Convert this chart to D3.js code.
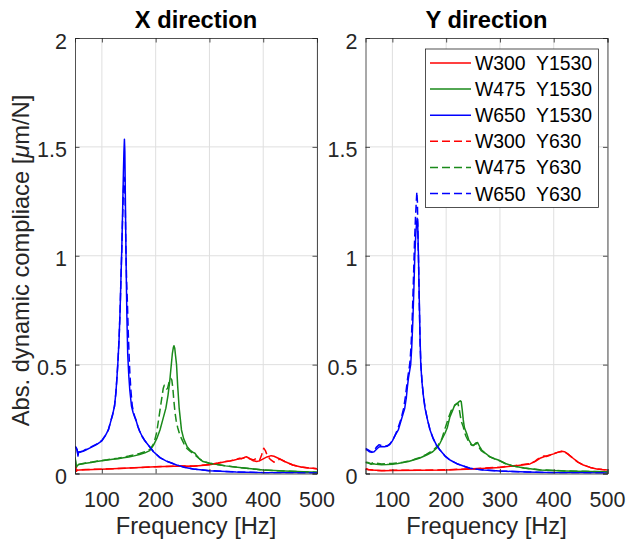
<!DOCTYPE html>
<html>
<head>
<meta charset="utf-8">
<script src="https://cdn.jsdelivr.net/npm/d3@7"></script>
<style>
  html, body { margin: 0; padding: 0; background: #fff; }
  svg { display: block; font-family: "Liberation Sans", Arial, Helvetica, sans-serif; }
</style>
</head>
<body>
<svg id="chart" width="627" height="544"></svg>
<script>
// ---- Data: [frequency Hz, |compliance| um/N] ----
// X direction
const xW300Y1530 = [[50,0.045],[51,0.03],[52.5,0.01],[54,0.015],[58,0.016],[70,0.017],[100,0.019],[150,0.025],[200,0.031],[250,0.034],[270,0.033],[300,0.04],[316,0.047],[329,0.054],[338,0.057],[345,0.061],[350,0.064],[356,0.07],[360,0.068],[364,0.073],[368.5,0.077],[374,0.07],[381,0.059],[388,0.055],[393,0.058],[400,0.067],[407,0.076],[414.8,0.082],[420,0.079],[430,0.068],[440,0.055],[455,0.039],[470,0.03],[485,0.025],[492,0.024],[500,0.022]];
const xW475Y1530 = [[50,0.075],[51,0.06],[52.5,0.028],[54,0.035],[56,0.04],[60,0.043],[70,0.047],[80,0.051],[90,0.055],[100,0.059],[110,0.062],[120,0.065],[130,0.068],[140,0.072],[150,0.076],[160,0.081],[170,0.087],[180,0.095],[189,0.105],[196,0.13],[202,0.16],[208,0.2],[213,0.245],[219,0.3],[223,0.36],[226,0.42],[228.3,0.48],[231,0.55],[233,0.58],[234,0.587],[235.5,0.575],[237,0.54],[238.8,0.5],[241,0.4],[243.7,0.3],[248,0.2],[252,0.16],[258.6,0.123],[265,0.105],[269,0.098],[273,0.093],[277,0.08],[282,0.066],[288,0.055],[300,0.047],[330,0.035],[360,0.026],[400,0.016],[450,0.01],[500,0.006]];
const xW650Y1530 = [[50,0.125],[52,0.12],[54,0.11],[55.5,0.08],[57,0.1],[60,0.098],[65,0.102],[70,0.108],[80,0.12],[90,0.133],[100,0.15],[106,0.172],[112,0.2],[116,0.235],[120,0.27],[123.5,0.31],[126,0.37],[128,0.44],[130,0.52],[132,0.62],[134,0.76],[135.5,0.9],[137,1.03],[138.5,1.2],[140,1.38],[141,1.48],[141.9,1.535],[142.7,1.48],[143.5,1.3],[144.5,1.08],[145.5,0.88],[146.5,0.72],[148,0.55],[150,0.45],[152,0.38],[155,0.31],[158,0.28],[161,0.26],[164,0.24],[167,0.215],[170,0.195],[175,0.17],[180,0.15],[188,0.125],[196,0.1],[208,0.073],[220,0.057],[239,0.039],[255,0.028],[270,0.021],[300,0.013],[350,0.007],[400,0.004],[450,0.003],[500,0.002]];
const xW300Y630 = [[50,0.04],[51,0.028],[52.5,0.012],[54,0.016],[58,0.017],[70,0.018],[100,0.02],[150,0.025],[200,0.031],[250,0.034],[270,0.034],[300,0.041],[316,0.048],[329,0.055],[338,0.058],[345,0.062],[350,0.065],[356,0.068],[362,0.07],[368,0.075],[375,0.068],[382,0.062],[388,0.07],[393,0.06],[397,0.085],[401,0.116],[404,0.105],[408,0.08],[413,0.065],[420,0.052],[425,0.058],[431,0.066],[440,0.055],[455,0.039],[470,0.03],[485,0.025],[500,0.022]];
const xW475Y630 = [[50,0.07],[51,0.055],[52.5,0.03],[54,0.036],[56,0.041],[60,0.044],[70,0.048],[80,0.052],[90,0.056],[100,0.06],[110,0.063],[120,0.067],[130,0.07],[140,0.075],[150,0.08],[160,0.086],[170,0.092],[180,0.1],[190,0.112],[197,0.14],[202,0.19],[205,0.24],[208,0.29],[211,0.34],[214,0.39],[216,0.405],[218,0.4],[220,0.388],[222,0.39],[225,0.42],[228,0.437],[230,0.43],[232,0.39],[234,0.33],[236,0.28],[238,0.245],[241,0.21],[244,0.185],[248,0.16],[253,0.135],[258,0.115],[265,0.1],[272,0.088],[280,0.07],[288,0.056],[300,0.047],[330,0.035],[360,0.026],[400,0.016],[450,0.01],[500,0.006]];
const xW650Y630 = [[50,0.12],[52,0.118],[54,0.105],[55.5,0.085],[57,0.098],[60,0.1],[65,0.104],[70,0.11],[80,0.122],[90,0.135],[100,0.152],[106,0.174],[112,0.2],[116,0.236],[120,0.272],[123.5,0.31],[126,0.37],[128,0.44],[130,0.52],[132,0.62],[134,0.76],[135.5,0.9],[137,1.03],[138.5,1.17],[140,1.3],[141.5,1.36],[142.5,1.35],[143.5,1.22],[144.5,1.05],[146,0.88],[147.5,0.78],[149,0.65],[150.5,0.55],[152,0.46],[154,0.38],[156.5,0.31],[159,0.28],[161,0.262],[164,0.242],[167,0.216],[170,0.196],[175,0.17],[180,0.15],[188,0.125],[196,0.1],[208,0.073],[220,0.057],[239,0.039],[255,0.028],[270,0.021],[300,0.013],[350,0.007],[400,0.004],[450,0.003],[500,0.002]];

// Y direction
const yW300Y1530 = [[50,0.02],[52,0.022],[55,0.018],[60,0.016],[70,0.015],[80,0.013],[100,0.014],[150,0.015],[200,0.016],[250,0.021],[300,0.028],[330,0.036],[355.8,0.044],[365,0.055],[374.4,0.07],[383,0.078],[393,0.085],[400,0.09],[407,0.097],[414.6,0.102],[420,0.1],[426,0.09],[436,0.07],[445,0.052],[455,0.039],[468,0.028],[480,0.021],[490,0.018],[500,0.016]];
const yW475Y1530 = [[50,0.05],[55,0.048],[60,0.043],[65,0.045],[70,0.042],[80,0.04],[90,0.041],[100,0.043],[110,0.046],[120,0.05],[130,0.055],[139,0.062],[150,0.07],[163.7,0.085],[175,0.1],[185,0.123],[188.5,0.139],[197.8,0.185],[202,0.21],[207,0.26],[212,0.29],[216,0.315],[220,0.32],[224,0.33],[226.3,0.334],[228,0.33],[230,0.29],[231.8,0.246],[234,0.21],[238,0.185],[242,0.155],[247.4,0.131],[251,0.13],[255,0.14],[258.5,0.142],[262,0.125],[266,0.108],[272,0.095],[281.4,0.077],[290,0.068],[297,0.062],[310,0.046],[324.7,0.034],[345,0.025],[374,0.016],[420,0.012],[460,0.009],[500,0.008]];
const yW650Y1530 = [[50,0.11],[53,0.108],[57,0.1],[62,0.097],[66,0.1],[70,0.11],[75,0.122],[80,0.124],[85,0.123],[90,0.125],[95,0.133],[100,0.15],[105,0.175],[111,0.2],[117,0.25],[123,0.3],[126,0.35],[128,0.4],[130,0.44],[132,0.47],[134,0.5],[136,0.58],[138,0.7],[140,0.85],[141.7,1.0],[143.5,1.1],[145,1.15],[146,1.172],[147,1.15],[148.5,1.0],[150,0.8],[151.5,0.62],[152.8,0.5],[155,0.42],[157.5,0.36],[160.6,0.3],[165,0.25],[170,0.2],[176,0.16],[182,0.13],[188.5,0.108],[198,0.08],[207,0.062],[220,0.045],[244,0.024],[270,0.016],[300,0.011],[350,0.007],[400,0.004],[450,0.003],[500,0.002]];
const yW300Y630 = [[50,0.021],[52,0.02],[55,0.017],[60,0.017],[70,0.014],[80,0.014],[100,0.015],[150,0.015],[200,0.017],[250,0.022],[300,0.029],[330,0.037],[355.8,0.045],[365,0.056],[370,0.066],[378,0.078],[382,0.08],[386,0.078],[393,0.084],[400,0.091],[407,0.097],[414.6,0.101],[420,0.099],[426,0.09],[436,0.07],[445,0.052],[455,0.039],[468,0.028],[480,0.021],[490,0.018],[500,0.016]];
const yW475Y630 = [[50,0.052],[55,0.05],[60,0.045],[65,0.05],[70,0.048],[80,0.044],[90,0.045],[100,0.046],[110,0.048],[120,0.052],[130,0.057],[140,0.064],[150,0.072],[163,0.088],[175,0.105],[185,0.13],[192,0.16],[197,0.2],[201,0.23],[205,0.26],[209.6,0.29],[214,0.305],[217,0.315],[220,0.322],[222,0.32],[224,0.3],[226,0.27],[228,0.24],[231.8,0.215],[234,0.19],[237,0.17],[241,0.15],[246,0.133],[250,0.128],[254,0.135],[257,0.137],[261,0.12],[265,0.105],[272,0.093],[282,0.075],[290,0.067],[300,0.058],[310,0.046],[325,0.034],[345,0.025],[374,0.017],[420,0.012],[460,0.01],[500,0.008]];
const yW650Y630 = [[50,0.115],[55,0.108],[60,0.1],[65,0.102],[70,0.12],[75,0.132],[80,0.128],[85,0.125],[90,0.127],[95,0.135],[100,0.15],[105,0.175],[110,0.205],[116,0.25],[121,0.3],[124,0.35],[126.5,0.4],[128.5,0.44],[131,0.48],[133,0.52],[135,0.6],[137,0.72],[139,0.88],[141,1.05],[143,1.18],[144.5,1.25],[145.5,1.294],[146.5,1.25],[147.5,1.1],[148.8,0.95],[150,0.78],[151.5,0.6],[153,0.5],[155.5,0.41],[158,0.35],[161,0.3],[165,0.25],[170,0.2],[176,0.16],[182,0.13],[188.5,0.108],[198,0.08],[207,0.062],[220,0.045],[244,0.024],[270,0.016],[300,0.011],[350,0.007],[400,0.004],[450,0.003],[500,0.002]];

const panelTitles = ["X direction", "Y direction"];
const legendLabels = ["W300  Y1530", "W475  Y1530", "W650  Y1530", "W300  Y630", "W475  Y630", "W650  Y630"];
const xTicks = [100, 200, 300, 400, 500];
const yTicks = [0, 0.5, 1, 1.5, 2];
const xDomain = [50, 500];
const yDomain = [0, 2];

const seriesColors = ["#ff0000", "#1a8a1a", "#0000ff", "#ff0000", "#1a8a1a", "#0000ff"];
const seriesDashed = [false, false, false, true, true, true];
const panelSeries = [
  [xW300Y1530, xW475Y1530, xW650Y1530, xW300Y630, xW475Y630, xW650Y630],
  [yW300Y1530, yW475Y1530, yW650Y1530, yW300Y630, yW475Y630, yW650Y630]
];

// ---- Layout ----
const svg = d3.select("#chart");
const plotTop = 38, plotBottom = 473.5;
const panels = [{ left: 75, right: 317 }, { left: 365.5, right: 607.5 }];
const axisColor = "#262626";
const gridColor = "#dfdfdf";
const tickLen = 4.5;

panels.forEach((p, pi) => {
  const x = d3.scaleLinear().domain(xDomain).range([p.left, p.right]);
  const y = d3.scaleLinear().domain(yDomain).range([plotBottom, plotTop]);
  const g = svg.append("g");

  // background
  g.append("rect").attr("x", p.left).attr("y", plotTop)
    .attr("width", p.right - p.left).attr("height", plotBottom - plotTop).attr("fill", "#fff");

  // grid
  g.append("g").selectAll("line").data(xTicks).join("line")
    .attr("x1", d => x(d)).attr("x2", d => x(d)).attr("y1", plotTop).attr("y2", plotBottom)
    .attr("stroke", gridColor).attr("stroke-width", 1);
  g.append("g").selectAll("line").data(yTicks.filter(v => v > 0 && v < 2)).join("line")
    .attr("y1", d => y(d)).attr("y2", d => y(d)).attr("x1", p.left).attr("x2", p.right)
    .attr("stroke", gridColor).attr("stroke-width", 1);

  // clip
  const clipId = "clip" + pi;
  svg.append("defs").append("clipPath").attr("id", clipId)
    .append("rect").attr("x", p.left).attr("y", plotTop)
    .attr("width", p.right - p.left).attr("height", plotBottom - plotTop);

  const line = d3.line().x(d => x(d[0])).y(d => y(d[1]));
  const lines = g.append("g").attr("clip-path", `url(#${clipId})`);
  panelSeries[pi].forEach((s, si) => {
    lines.append("path").datum(s)
      .attr("d", line)
      .attr("fill", "none")
      .attr("stroke", seriesColors[si])
      .attr("stroke-width", 1.5)
      .attr("stroke-linejoin", "round")
      .attr("stroke-dasharray", seriesDashed[si] ? "8,4" : null);
  });

  // axes box + ticks (inward, on all sides)
  const xAxisB = d3.axisBottom(x).tickValues(xTicks).tickSize(-tickLen).tickFormat("");
  const xAxisT = d3.axisTop(x).tickValues(xTicks).tickSize(-tickLen).tickFormat("");
  const yAxisL = d3.axisLeft(y).tickValues(yTicks).tickSize(-tickLen).tickFormat("");
  const yAxisR = d3.axisRight(y).tickValues(yTicks).tickSize(-tickLen).tickFormat("");
  [[xAxisB, `translate(0,${plotBottom})`], [xAxisT, `translate(0,${plotTop})`],
   [yAxisL, `translate(${p.left},0)`], [yAxisR, `translate(${p.right},0)`]].forEach(([ax, tr]) => {
    const a = g.append("g").attr("transform", tr).call(ax);
    a.select(".domain").attr("stroke", axisColor).attr("stroke-width", 0.8);
    a.selectAll(".tick line").attr("stroke", axisColor).attr("stroke-width", 0.8);
  });

  // tick labels
  g.append("g").selectAll("text").data(xTicks).join("text")
    .attr("x", d => x(d)).attr("y", 507)
    .attr("text-anchor", "middle").attr("font-size", 21.5).attr("fill", axisColor)
    .text(d => d);
  g.append("g").selectAll("text").data(yTicks).join("text")
    .attr("x", p.left - 8).attr("y", d => y(d) + 10.5)
    .attr("text-anchor", "end").attr("font-size", 21.5).attr("fill", axisColor)
    .text(d => d3.format("")(d));

  // title
  g.append("text").attr("x", (p.left + p.right) / 2).attr("y", 28)
    .attr("text-anchor", "middle").attr("font-size", 23.7).attr("font-weight", "bold")
    .attr("fill", "#000").text(panelTitles[pi]);

  // x label
  g.append("text").attr("x", (p.left + p.right) / 2).attr("y", 534)
    .attr("text-anchor", "middle").attr("font-size", 23.7).attr("fill", axisColor)
    .text("Frequency [Hz]");
});

// y label
const yl = svg.append("text")
  .attr("transform", "translate(29,260.5) rotate(-90)")
  .attr("text-anchor", "middle").attr("font-size", 23.7).attr("fill", axisColor);
yl.append("tspan").text("Abs. dynamic compliace [");
yl.append("tspan").attr("font-style", "italic").text("\u03bc");
yl.append("tspan").text("m/N]");

// legend
const lg = svg.append("g");
const lgBox = { x: 425.5, y: 49, w: 173, h: 158.5 };
lg.append("rect").attr("x", lgBox.x).attr("y", lgBox.y).attr("width", lgBox.w).attr("height", lgBox.h)
  .attr("fill", "#fff").attr("stroke", axisColor).attr("stroke-width", 0.8);
legendLabels.forEach((lab, i) => {
  const cy = 63 + i * 26.1;
  lg.append("line").attr("x1", 430).attr("x2", 471).attr("y1", cy).attr("y2", cy)
    .attr("stroke", seriesColors[i]).attr("stroke-width", 1.5)
    .attr("stroke-dasharray", seriesDashed[i] ? "8,4" : null);
  lg.append("text").attr("x", 475).attr("y", cy + 7).attr("font-size", 19.4)
    .attr("fill", "#000").style("white-space", "pre").text(lab);
});
</script>
</body>
</html>
